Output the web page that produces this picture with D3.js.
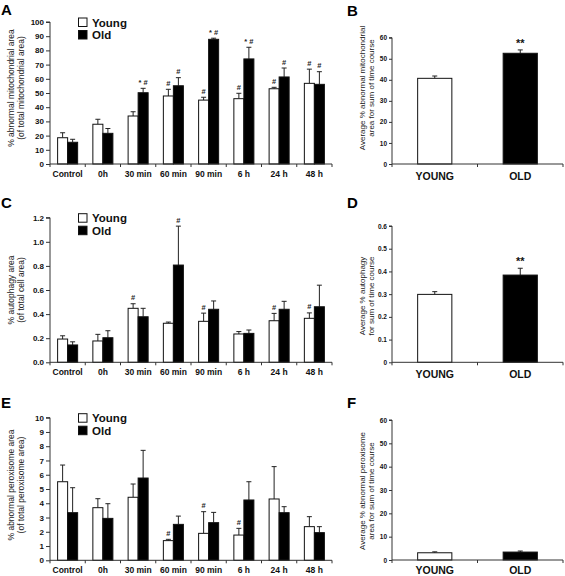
<!DOCTYPE html>
<html><head><meta charset="utf-8">
<script src="https://cdn.jsdelivr.net/npm/d3@7"></script>
<style>
html,body{margin:0;padding:0;background:#fff;}
svg{display:block;font-family:Arial,"Liberation Sans",Helvetica,sans-serif;}
</style></head>
<body><svg id="chart" width="565" height="576"></svg>
<script>
// ---------- DATA ----------
const categories = ["Control", "0h", "30 min", "60 min", "90 min", "6 h", "24 h", "48 h"];
const groups = ["Young", "Old"];
const summaryLabels = ["YOUNG", "OLD"];

// A: % abnormal mitochondrial area
const mitoYoung    = [18.5, 28.0, 33.8, 47.9, 45.0, 46.0, 53.0, 56.8];
const mitoYoungErr = [3.5, 3.5, 3.0, 4.7, 2.0, 3.8, 1.0, 10.0];
const mitoOld      = [15.3, 21.6, 50.2, 55.1, 87.8, 74.0, 61.3, 56.1];
const mitoOldErr   = [2.1, 3.4, 3.1, 5.7, 0.8, 8.2, 6.3, 8.9];
const mitoSigYoung = ["", "", "", "#", "#", "#", "#", "#"];
const mitoSigOld   = ["", "", "* #", "#", "* #", "* #", "#", "#"];
const mitoTicks    = [0, 10, 20, 30, 40, 50, 60, 70, 80, 90, 100];

// B: average abnormal mitochondrial area
const mitoAvg    = [40.7, 52.6];
const mitoAvgErr = [1.1, 1.6];
const mitoAvgSig = ["", "**"];
const mitoAvgTicks = [0, 10, 20, 30, 40, 50, 60];

// C: % autophagy area
const autoYoung    = [0.193, 0.177, 0.448, 0.324, 0.340, 0.235, 0.345, 0.365];
const autoYoungErr = [0.027, 0.055, 0.038, 0.010, 0.068, 0.020, 0.061, 0.045];
const autoOld      = [0.144, 0.204, 0.378, 0.807, 0.440, 0.240, 0.440, 0.461];
const autoOldErr   = [0.026, 0.058, 0.070, 0.323, 0.069, 0.028, 0.066, 0.179];
const autoSigYoung = ["", "", "#", "", "#", "", "#", "#"];
const autoSigOld   = ["", "", "", "#", "", "", "", ""];
const autoTicks    = [0, 0.2, 0.4, 0.6, 0.8, 1.0, 1.2];

// D: average autophagy
const autoAvg    = [0.299, 0.384];
const autoAvgErr = [0.012, 0.030];
const autoAvgSig = ["", "**"];
const autoAvgTicks = [0, 0.1, 0.2, 0.3, 0.4, 0.5, 0.6];

// E: % abnormal peroxisome area
const peroxYoung    = [5.51, 3.69, 4.42, 1.38, 1.89, 1.77, 4.30, 2.36];
const peroxYoungErr = [1.17, 0.63, 0.93, 0.09, 1.52, 0.47, 2.27, 0.70];
const peroxOld      = [3.34, 2.94, 5.77, 2.52, 2.64, 4.23, 3.34, 1.94];
const peroxOldErr   = [1.75, 1.03, 1.94, 0.58, 0.72, 1.28, 0.42, 0.42];
const peroxSigYoung = ["", "", "", "#", "#", "#", "", ""];
const peroxSigOld   = ["", "", "", "", "", "", "", ""];
const peroxTicks    = [0, 1, 2, 3, 4, 5, 6, 7, 8, 9, 10];

// F: average abnormal peroxisome area
const peroxAvg    = [3.1, 3.4];
const peroxAvgErr = [0.4, 0.45];
const peroxAvgSig = ["", ""];
const peroxAvgTicks = [0, 10, 20, 30, 40, 50, 60];

// ---------- DRAWING ----------
const svg = d3.select("#chart");
const AX = "#333";

function yAxisDraw(g, y, ticks, fmt, x0, fontSize, tickLen) {
  const ax = d3.axisLeft(y).tickValues(ticks).tickFormat(fmt).tickSize(tickLen).tickPadding(2);
  const a = g.append("g").attr("transform", `translate(${x0},0)`).call(ax);
  a.select(".domain").attr("stroke", AX).attr("d", `M-${tickLen},${y(ticks[ticks.length-1])}H0V${y(0)}`);
  a.selectAll(".tick line").attr("stroke", AX);
  a.selectAll(".tick text").attr("font-size", fontSize).attr("font-weight", "bold").attr("fill", "#111");
  return a;
}

function letter(t, x, y) {
  svg.append("text").attr("x", x).attr("y", y).text(t)
    .attr("font-size", 15).attr("font-weight", "bold").attr("fill", "#000");
}

function yLabel(lines, cx, cy, size) {
  const t = svg.append("text").attr("transform", `translate(${cx},${cy}) rotate(-90)`)
    .attr("text-anchor", "middle").attr("font-size", size).attr("fill", "#222");
  lines.forEach((l, i) => {
    t.append("tspan").attr("x", 0).attr("dy", i === 0 ? 0 : size * 1.12).text(l);
  });
}

function timePanel(cfg) {
  const g = svg.append("g");
  const x0 = 50, x1 = 332;
  const x = d3.scaleBand().domain(categories).range([x0, x1]).paddingInner(0).paddingOuter(0);
  const xs = d3.scaleBand().domain(groups).range([0, x.bandwidth()]).paddingInner(0).paddingOuter(0.76);
  const y = d3.scaleLinear().domain([0, cfg.max]).range([cfg.bottom, cfg.top]);

  const series = [
    {name: "Young", v: cfg.young, e: cfg.youngErr, s: cfg.sigYoung, fill: "#fff"},
    {name: "Old", v: cfg.old, e: cfg.oldErr, s: cfg.sigOld, fill: "#000"}
  ];
  series.forEach(sr => {
    categories.forEach((c, i) => {
      const bx = x(c) + xs(sr.name), bw = xs.bandwidth();
      const cx = bx + bw / 2;
      const top = y(sr.v[i] + sr.e[i]);
      g.append("line").attr("x1", cx).attr("x2", cx).attr("y1", y(sr.v[i])).attr("y2", top)
        .attr("stroke", "#222").attr("stroke-width", 1);
      g.append("line").attr("x1", cx - 2.5).attr("x2", cx + 2.5).attr("y1", top).attr("y2", top)
        .attr("stroke", "#222").attr("stroke-width", 1);
      g.append("rect").attr("x", bx).attr("y", y(sr.v[i])).attr("width", bw)
        .attr("height", y(0) - y(sr.v[i])).attr("fill", sr.fill).attr("stroke", "#111").attr("stroke-width", 1);
      if (sr.s[i]) {
        g.append("text").attr("x", cx).attr("y", top - 3.5).attr("text-anchor", "middle")
          .attr("font-size", 7.5).attr("font-weight", "bold").attr("fill", "#222").text(sr.s[i]);
      }
    });
  });

  yAxisDraw(g, y, cfg.ticks, cfg.fmt, x0, 8, 4);
  g.append("line").attr("x1", x0).attr("x2", x1).attr("y1", y(0)).attr("y2", y(0)).attr("stroke", AX);
  const bounds = categories.map(c => x(c)).concat([x1]);
  bounds.forEach(b => g.append("line").attr("x1", b).attr("x2", b).attr("y1", y(0)).attr("y2", y(0) + 3).attr("stroke", AX));
  categories.forEach(c => {
    g.append("text").attr("x", x(c) + x.bandwidth() / 2).attr("y", y(0) + 12.5).attr("text-anchor", "middle")
      .attr("font-size", 8.5).attr("font-weight", "bold").attr("fill", "#111").text(c);
  });

  const lg = g.append("g");
  [["Young", "#fff"], ["Old", "#000"]].forEach((d, i) => {
    const ly = cfg.top - 4 + i * 12.5;
    lg.append("rect").attr("x", 78.5).attr("y", ly).attr("width", 8.5).attr("height", 8.5)
      .attr("fill", d[1]).attr("stroke", "#111");
    lg.append("text").attr("x", 92).attr("y", ly + 8.5).attr("font-size", 11.5).attr("font-weight", "bold")
      .attr("fill", "#111").text(d[0]);
  });

  letter(cfg.letter, 1, cfg.letterY);
  yLabel(cfg.label, 14, cfg.labelY, 8.5);
}

function summaryPanel(cfg) {
  const g = svg.append("g");
  const x0 = 392, x1 = 563;
  const x = d3.scaleBand().domain(summaryLabels).range([x0, x1]).padding(0);
  const y = d3.scaleLinear().domain([0, cfg.max]).range([cfg.bottom, cfg.top]);
  const fills = ["#fff", "#000"];
  summaryLabels.forEach((c, i) => {
    const bw = x.bandwidth() * 0.4;
    const cx = x(c) + x.bandwidth() / 2;
    const top = y(cfg.vals[i] + cfg.errs[i]);
    g.append("line").attr("x1", cx).attr("x2", cx).attr("y1", y(cfg.vals[i])).attr("y2", top).attr("stroke", "#222");
    g.append("line").attr("x1", cx - 2.5).attr("x2", cx + 2.5).attr("y1", top).attr("y2", top).attr("stroke", "#222");
    g.append("rect").attr("x", cx - bw / 2).attr("y", y(cfg.vals[i])).attr("width", bw)
      .attr("height", y(0) - y(cfg.vals[i])).attr("fill", fills[i]).attr("stroke", "#111");
    if (cfg.sig[i]) {
      g.append("text").attr("x", cx).attr("y", top - 3).attr("text-anchor", "middle")
        .attr("font-size", 11).attr("font-weight", "bold").attr("fill", "#111").text(cfg.sig[i]);
    }
    g.append("text").attr("x", cx).attr("y", y(0) + cfg.xLabOff).attr("text-anchor", "middle")
      .attr("font-size", 10.5).attr("font-weight", "bold").attr("fill", "#111").text(c);
  });
  yAxisDraw(g, y, cfg.ticks, cfg.fmt, x0, 6.5, 3);
  g.append("line").attr("x1", x0).attr("x2", x1).attr("y1", y(0)).attr("y2", y(0)).attr("stroke", AX);
  summaryLabels.map(c => x(c)).concat([x1]).forEach(b =>
    g.append("line").attr("x1", b).attr("x2", b).attr("y1", y(0)).attr("y2", y(0) + 3).attr("stroke", AX));

  letter(cfg.letter, 347, cfg.letterY);
  yLabel(cfg.label, 365, cfg.labelY, 8);
}

timePanel({letter: "A", letterY: 15, top: 22, bottom: 164, max: 100, ticks: mitoTicks, fmt: d3.format("d"),
  young: mitoYoung, youngErr: mitoYoungErr, old: mitoOld, oldErr: mitoOldErr,
  sigYoung: mitoSigYoung, sigOld: mitoSigOld,
  label: ["% abnormal mitochondrial area", "(of total mitochondrial area)"], labelY: 88});
summaryPanel({letter: "B", letterY: 16, top: 37.7, bottom: 164, max: 60, ticks: mitoAvgTicks, fmt: d3.format("d"),
  vals: mitoAvg, errs: mitoAvgErr, sig: mitoAvgSig, xLabOff: 16,
  label: ["Average % abnormal mitochondrial", "area for sum of time course"], labelY: 88});

timePanel({letter: "C", letterY: 208, top: 217.7, bottom: 362.3, max: 1.2, ticks: autoTicks, fmt: d3.format(".1f"),
  young: autoYoung, youngErr: autoYoungErr, old: autoOld, oldErr: autoOldErr,
  sigYoung: autoSigYoung, sigOld: autoSigOld,
  label: ["% autophagy area", "(of total cell area)"], labelY: 290});
summaryPanel({letter: "D", letterY: 208, top: 226, bottom: 362.3, max: 0.6, ticks: autoAvgTicks, fmt: d => d === 0 ? "0" : d3.format(".1f")(d),
  vals: autoAvg, errs: autoAvgErr, sig: autoAvgSig, xLabOff: 16,
  label: ["Average % autophagy", "for sum of time course"], labelY: 296});

timePanel({letter: "E", letterY: 408, top: 417.7, bottom: 560.3, max: 10, ticks: peroxTicks, fmt: d3.format("d"),
  young: peroxYoung, youngErr: peroxYoungErr, old: peroxOld, oldErr: peroxOldErr,
  sigYoung: peroxSigYoung, sigOld: peroxSigOld,
  label: ["% abnormal peroxisome area", "(of total peroxisome area)"], labelY: 485});
summaryPanel({letter: "F", letterY: 408, top: 420, bottom: 560, max: 60, ticks: peroxAvgTicks, fmt: d3.format("d"),
  vals: peroxAvg, errs: peroxAvgErr, sig: peroxAvgSig, xLabOff: 13.5,
  label: ["Average % abnormal peroxisome", "area for sum of time course"], labelY: 491});
</script>
</body></html>
